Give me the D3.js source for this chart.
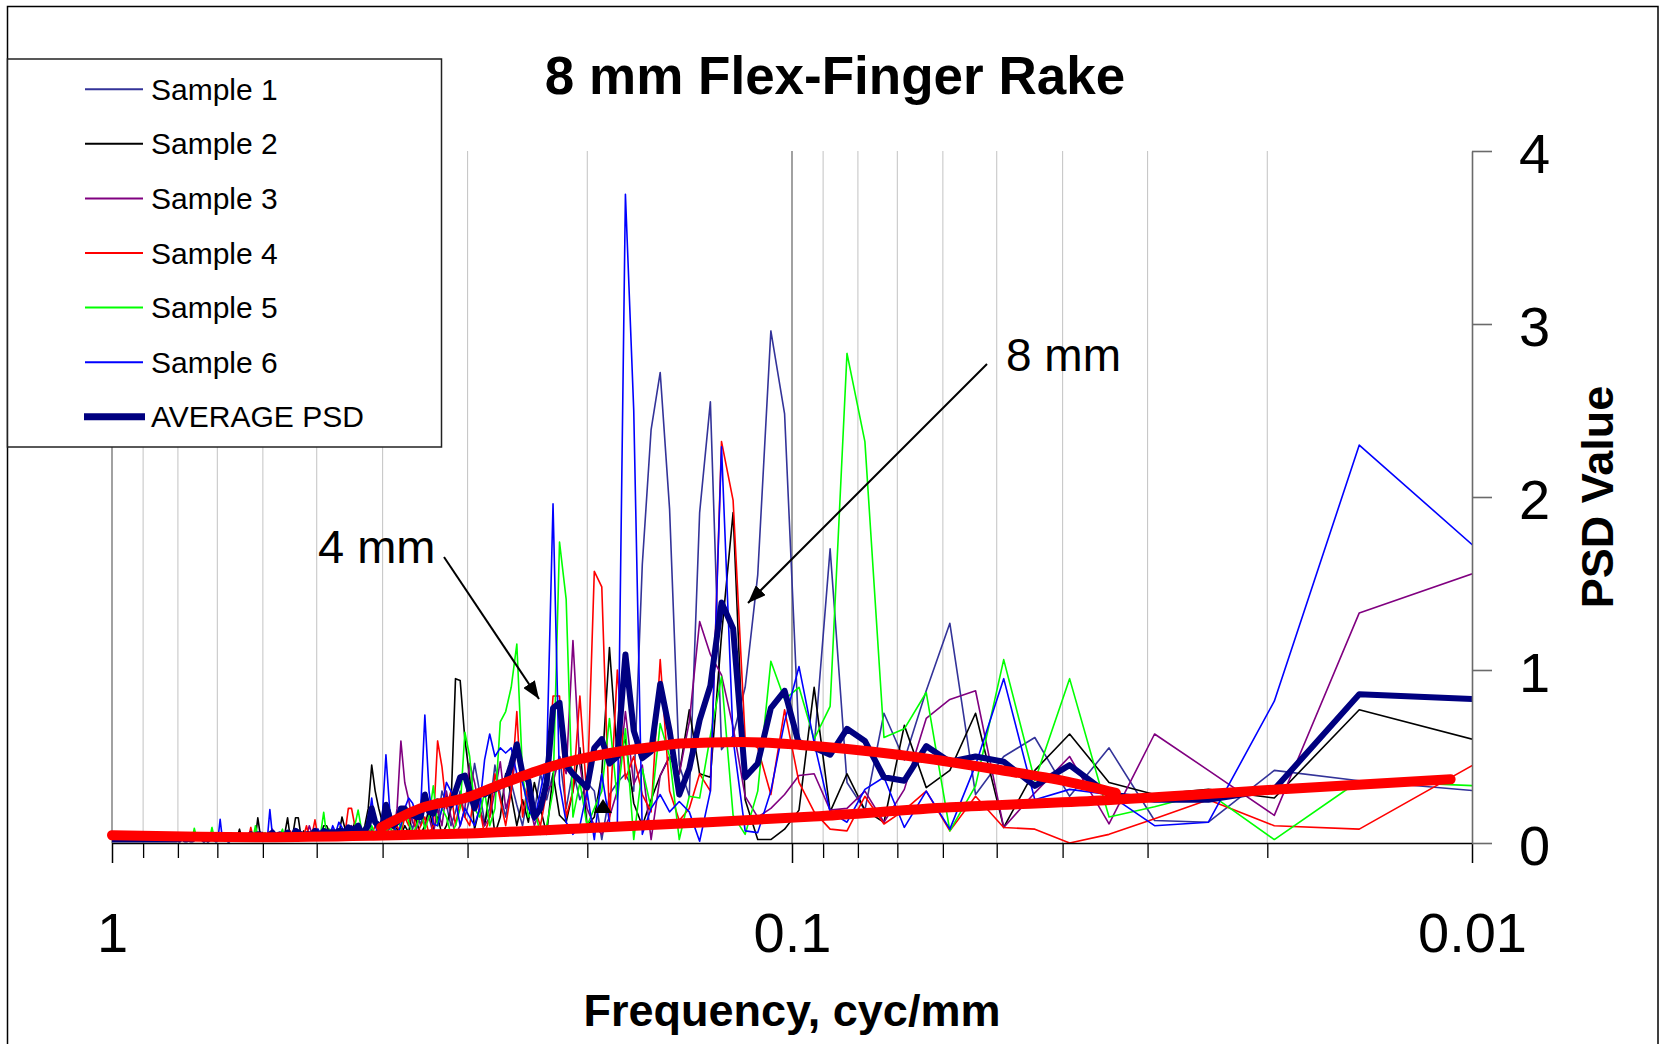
<!DOCTYPE html>
<html><head><meta charset="utf-8">
<script src="https://cdn.jsdelivr.net/npm/d3@7"></script>
<style>
html,body{margin:0;padding:0;background:#fff;}
svg{display:block;font-family:"Liberation Sans",Arial,sans-serif;}
</style></head><body>
<svg id="chart" width="1660" height="1044"></svg>
<script>
// ---------------- DATA ----------------
const chartTitle = "8 mm Flex-Finger Rake";
const xTitle = "Frequency, cyc/mm";
const yTitle = "PSD Value";
const xTickValues = [1, 0.1, 0.01];
const xTickLabels = ["1", "0.1", "0.01"];
const yTickValues = [0, 1, 2, 3, 4];
const yTickLabels = ["0", "1", "2", "3", "4"];
const recordLength = 204.8;            // mm (frequency grid = harmonic / record length)
const harmonics = d3.range(2, 206);    // harmonic numbers shown (2 .. 205)
const seriesNames = ["Sample 1","Sample 2","Sample 3","Sample 4","Sample 5","Sample 6","AVERAGE PSD"];
const seriesColors = ["#333399","#000000","#800080","#FF0000","#00FF00","#0000FF","#000080"];

const sample1 = [0.30,0.36,0.42,0.12,0.13,0.55,0.27,0.61,0.50,0.28,
 1.27,0.88,0.48,0.75,0.19,0.35,1.70,0.55,0.60,2.48,
 2.96,1.55,0.90,0.62,0.54,2.55,1.91,0.27,0.45,1.93,
 2.72,2.39,1.61,0.30,0.40,0.35,0.28,0.02,0.30,0.35,
 0.25,0.42,0.20,0.50,0.40,0.25,0.40,0.18,0.30,0.10,
 0.22,0.35,0.15,0.28,0.45,0.20,0.12,0.30,0.46,0.25,
 0.15,0.30,0.18,0.10,0.22,0.30,0.12,0.20,0.15,0.25,
 0.10,0.18,0.08,0.15,0.20,0.10,0.05,0.12,0.08,0.15,
 0.06,0.10,0.04,0.08,0.05,
 .06,.04,.08,.05,.03,.06,.09,.04,.05,.07,
 .03,.05,.08,.04,.06,.03,.05,.07,.04,.03,
 .05,.04,.06,.03,.05,.04,.02,.05,.03,.04,
 .06,.03,.04,.02,.05,.03,.04,.06,.03,.02,
 .04,.03,.05,.02,.03,.04,.02,.03,.05,.02,
 .03,.02,.04,.03,.02,.03,.04,.02,.03,.02,
 .03,.02,.02,.04,.02,.03,.02,.02,.03,.02,
 .02,.03,.02,.02,.03,.02,.02,.03,.02,.02,
 .02,.02,.03,.02,.02,.02,.03,.02,.02,.02,
 .02,.03,.02,.02,.02,.02,.03,.02,.02,.02,
 .02,.02,.02,.03,.02,.02,.02,.02,.03,.02,
 .02,.02,.02,.02,.03,.02,.02,.02,.02];

const sample2 = [0.59,0.77,0.26,0.31,0.28,0.35,0.63,0.42,0.09,0.75,
 0.42,0.32,0.68,0.12,0.19,0.40,0.18,0.90,0.19,0.08,
 0.02,0.02,0.25,1.91,1.20,0.38,0.40,0.77,0.40,0.50,
 0.39,0.25,0.10,0.23,0.60,0.50,1.13,0.40,0.15,0.10,
 0.55,0.30,0.12,0.16,0.40,0.05,0.20,0.35,0.12,0.25,
 0.10,0.28,0.40,0.15,0.05,0.30,0.10,0.20,0.08,0.38,
 0.60,0.94,0.95,0.20,0.10,0.05,0.15,0.08,0.20,0.10,
 0.05,0.12,0.20,0.06,0.10,0.04,0.08,0.15,0.10,0.05,
 0.12,0.20,0.30,0.45,0.20,
 .10,.05,.08,.12,.06,.04,.08,.15,.05,.07,
 .04,.06,.10,.10,.05,.08,.04,.06,.03,.05,
 .07,.04,.146,.146,.05,.03,.146,.06,.03,.05,
 .04,.06,.03,.05,.04,.02,.06,.05,.146,.03,
 .03,.05,.02,.04,.03,.03,.08,.03,.02,.04,
 .02,.03,.04,.02,.03,.02,.04,.02,.03,.02,
 .03,.02,.03,.02,.02,.04,.02,.03,.02,.02,
 .03,.02,.02,.03,.02,.05,.02,.02,.03,.02,
 .02,.03,.02,.02,.03,.02,.02,.03,.02,.02,
 .03,.02,.02,.02,.03,.02,.02,.02,.03,.02,
 .02,.02,.03,.02,.02,.02,.03,.02,.02,.02,
 .03,.02,.02,.02,.02,.03,.02,.02,.02];

const sample3 = [1.57,1.33,0.16,0.42,0.63,0.11,0.50,0.29,0.09,0.88,
 0.83,0.72,0.31,0.12,0.30,0.20,0.19,0.40,0.39,0.28,
 0.20,0.15,0.27,0.67,0.97,1.09,1.28,0.70,0.40,0.50,
 0.39,0.02,0.45,0.34,0.76,0.30,0.15,0.05,0.10,0.20,
 0.45,1.17,0.40,0.50,0.35,0.30,0.20,0.10,0.25,0.35,
 0.56,0.30,0.20,0.47,0.30,0.15,0.10,0.20,0.35,0.46,
 0.20,0.10,0.05,0.15,0.30,0.10,0.20,0.05,0.15,0.10,
 0.20,0.08,0.12,0.25,0.35,0.59,0.20,0.05,0.10,0.04,
 0.08,0.12,0.05,0.03,0.06,
 .05,.08,.04,.06,.10,.05,.03,.07,.04,.06,
 .08,.04,.05,.03,.06,.04,.07,.05,.10,.04,
 .03,.05,.04,.06,.03,.04,.05,.03,.04,.06,
 .03,.04,.08,.03,.05,.02,.04,.03,.05,.02,
 .03,.04,.02,.03,.05,.02,.03,.02,.04,.02,
 .03,.02,.03,.04,.02,.02,.03,.02,.02,.03,
 .02,.03,.02,.02,.03,.02,.02,.03,.02,.02,
 .02,.02,.03,.02,.02,.02,.03,.02,.02,.02,
 .03,.02,.02,.02,.02,.03,.02,.02,.02,.02,
 .02,.02,.03,.02,.02,.02,.02,.02,.03,.02,
 .02,.02,.02,.02,.03,.02,.02,.02,.02,.02,
 .02,.03,.02,.02,.02,.02,.02,.03,.02];

const sample4 = [0.47,0.08,0.10,0.25,0.14,0.05,0.00,0.08,0.09,0.27,
 0.07,0.30,0.19,0.11,0.27,0.07,0.08,0.18,0.35,0.77,
 0.28,0.55,0.60,1.98,2.32,0.30,0.40,0.20,0.13,0.30,
 1.06,0.18,0.28,0.50,0.37,1.00,0.13,1.48,1.57,0.25,
 0.85,0.30,0.15,0.85,0.85,0.30,0.10,0.20,0.35,0.15,
 0.76,0.30,0.10,0.25,0.40,0.15,0.05,0.20,0.30,0.10,
 0.15,0.25,0.10,0.30,0.20,0.44,0.59,0.10,0.05,0.15,
 0.10,0.05,0.20,0.10,0.15,0.05,0.10,0.08,0.12,0.05,
 0.10,0.06,0.10,0.05,0.08,
 .06,.04,.08,.10,.20,.20,.06,.04,.07,.05,
 .03,.06,.04,.08,.05,.04,.134,.05,.03,.10,
 .04,.06,.03,.05,.04,.07,.03,.04,.05,.03,
 .04,.03,.06,.02,.04,.03,.05,.03,.02,.04,
 .03,.09,.03,.02,.04,.03,.02,.03,.04,.02,
 .03,.02,.03,.02,.04,.02,.03,.02,.02,.03,
 .02,.03,.02,.02,.03,.02,.04,.02,.02,.03,
 .02,.02,.03,.02,.02,.02,.03,.02,.02,.03,
 .02,.02,.02,.03,.02,.02,.02,.02,.03,.02,
 .02,.03,.02,.02,.02,.03,.02,.02,.02,.02,
 .03,.02,.02,.02,.02,.02,.03,.02,.02,.02,
 .02,.02,.03,.02,.02,.02,.03,.02,.02];

const sample5 = [0.33,0.36,0.02,0.29,0.21,0.15,0.95,0.36,1.06,0.33,
 0.07,0.87,0.66,0.61,2.32,2.83,0.79,0.60,0.90,0.83,
 1.05,0.30,0.05,0.16,0.96,0.62,0.26,0.27,0.02,0.50,
 0.69,0.20,0.43,0.02,0.66,0.25,0.72,0.30,0.20,0.10,
 0.35,0.15,1.41,1.74,0.30,0.10,0.05,0.20,0.15,0.40,
 1.15,0.90,0.76,0.70,0.20,0.10,0.30,0.15,0.20,0.50,
 0.64,0.20,0.10,0.05,0.15,0.20,0.10,0.33,0.15,0.08,
 0.20,0.10,0.05,0.12,0.20,0.08,0.15,0.05,0.10,0.06,
 0.04,0.08,0.05,0.10,0.04,
 .05,.08,.19,.10,.05,.04,.07,.03,.06,.04,
 .05,.08,.04,.177,.06,.03,.05,.07,.04,.06,
 .03,.05,.04,.06,.03,.05,.04,.03,.08,.04,
 .03,.05,.02,.04,.03,.06,.03,.02,.04,.10,
 .03,.04,.02,.05,.03,.02,.04,.03,.02,.04,
 .03,.02,.04,.02,.03,.05,.02,.03,.04,.09,
 .03,.02,.04,.02,.03,.02,.03,.04,.085,.03,
 .02,.03,.02,.02,.03,.02,.02,.03,.02,.02,
 .03,.02,.02,.02,.03,.02,.02,.02,.02,.03,
 .02,.02,.03,.02,.02,.02,.02,.03,.02,.02,
 .02,.03,.02,.02,.02,.02,.02,.02,.03,.02,
 .02,.02,.02,.03,.02,.02,.02,.02,.02];

const sample6 = [1.69,2.30,0.82,0.12,0.10,0.28,0.31,0.25,0.95,0.45,
 0.08,0.30,0.09,0.38,0.31,0.12,0.18,0.58,1.02,0.70,
 0.30,0.06,0.07,0.60,2.29,0.30,0.01,0.18,0.24,0.18,
 0.28,0.20,0.05,2.50,3.75,0.10,0.12,0.40,0.02,0.30,
 0.10,0.05,0.12,0.34,1.96,0.48,0.30,0.13,0.20,0.35,
 0.40,0.55,0.52,0.55,0.50,0.63,0.48,0.20,0.10,0.15,
 0.20,0.10,0.25,0.30,0.35,0.20,0.10,0.11,0.30,0.74,
 0.20,0.15,0.23,0.26,0.20,0.10,0.05,0.10,0.20,0.51,
 0.15,0.05,0.10,0.26,0.10,
 .08,.05,.10,.06,.04,.07,.05,.09,.12,.06,
 .10,.04,.06,.03,.05,.08,.04,.06,.03,.05,
 .04,.06,.03,.05,.04,.03,.06,.04,.03,.05,
 .03,.04,.05,.193,.03,.05,.02,.04,.03,.02,
 .04,.03,.02,.04,.03,.02,.03,.04,.02,.03,
 .02,.03,.04,.02,.03,.137,.03,.02,.03,.02,
 .03,.02,.02,.03,.02,.03,.02,.02,.03,.02,
 .02,.03,.02,.02,.02,.03,.02,.02,.02,.03,
 .02,.02,.03,.02,.02,.02,.02,.03,.02,.02,
 .02,.02,.02,.03,.02,.02,.02,.02,.02,.03,
 .02,.02,.02,.02,.03,.02,.02,.02,.02,.02,
 .03,.02,.02,.02,.02,.02,.03,.02,.02];

const averagePsd = [0.83,0.86,0.31,0.25,0.25,0.28,0.45,0.33,0.47,0.50,
 0.47,0.56,0.36,0.38,0.59,0.66,0.51,0.55,0.57,0.88,
 0.78,0.46,0.38,1.24,1.39,0.91,0.71,0.43,0.28,0.65,
 0.92,0.53,0.49,0.65,1.09,0.50,0.46,0.60,0.55,0.32,
 0.36,0.40,0.45,0.81,0.78,0.35,0.20,0.15,0.36,0.40,
 0.57,0.45,0.35,0.33,0.31,0.30,0.28,0.30,0.20,0.30,
 0.39,0.38,0.30,0.22,0.25,0.22,0.24,0.17,0.18,0.28,
 0.15,0.15,0.16,0.16,0.20,0.20,0.12,0.10,0.15,0.22,
 0.10,0.10,0.12,0.20,0.10,
 .07,.06,.10,.08,.08,.09,.06,.07,.07,.06,
 .06,.06,.06,.07,.05,.05,.07,.05,.05,.05,
 .04,.05,.06,.07,.04,.04,.06,.04,.04,.05,
 .04,.04,.06,.05,.04,.04,.04,.05,.05,.04,
 .03,.05,.03,.03,.04,.03,.04,.03,.03,.03,
 .03,.02,.04,.03,.03,.04,.03,.02,.03,.04,
 .03,.02,.03,.02,.03,.03,.03,.03,.03,.02,
 .02,.03,.02,.02,.03,.03,.02,.03,.02,.02,
 .02,.02,.02,.02,.02,.02,.02,.02,.02,.02,
 .02,.02,.02,.02,.02,.02,.02,.02,.02,.02,
 .02,.02,.02,.02,.02,.02,.02,.02,.02,.02,
 .02,.02,.02,.02,.02,.02,.02,.02,.02];

// red smooth envelope curves (frequency, PSD)
const humpFreq = [0.402,0.352,0.300,0.266,0.227,0.185,0.160,0.146,0.1187,0.0972,0.0693,0.0494,0.0394,0.0334];
const humpPsd  = [0.09, 0.20, 0.265,0.345,0.44, 0.52, 0.555,0.575,0.584, 0.567, 0.509, 0.422, 0.355, 0.29];
const baseFreq = [1.0, 0.742,0.593,0.399,0.300,0.205,0.136,0.093,0.0585,0.0352,0.0185,0.01075];
const basePsd  = [0.045,0.036,0.033,0.043,0.055,0.084,0.118,0.153,0.206,0.245,0.314,0.368];

// ---------------- DRAW ----------------
const svg = d3.select("#chart");
const W = 1660, H = 1044;
const x = d3.scaleLog().domain([1, 0.01]).range([112, 1472]);
const y = d3.scaleLinear().domain([0, 4]).range([843, 151]);

svg.append("rect").attr("width", W).attr("height", H).attr("fill", "#fff");
// outer chart border
svg.append("rect").attr("x", 7.5).attr("y", 6.5).attr("width", 1650.5).attr("height", 1100)
  .attr("fill", "none").attr("stroke", "#000").attr("stroke-width", 1.5);

// vertical gridlines
const gridTicks = x.ticks();
const isMajor = v => Math.abs(Math.log10(v) - Math.round(Math.log10(v))) < 1e-9;
svg.append("g").selectAll("line").data(gridTicks.filter(v => v > 0.0100001)).join("line")
  .attr("x1", d => x(d)).attr("x2", d => x(d))
  .attr("y1", y(4)).attr("y2", y(0))
  .attr("stroke", d => isMajor(d) ? "#7a7a7a" : "#c8c8c8")
  .attr("stroke-width", d => isMajor(d) ? 1.4 : 1.1);

// plot clip
svg.append("defs").append("clipPath").attr("id", "plotClip")
  .append("rect").attr("x", 112).attr("y", 100).attr("width", 1360).attr("height", 743);

const freq = harmonics.map(k => k / recordLength);
const allSeries = [sample1, sample2, sample3, sample4, sample5, sample6, averagePsd];
const line = d3.line().x(d => x(d[0])).y(d => y(d[1]));
const gLines = svg.append("g").attr("clip-path", "url(#plotClip)");
allSeries.forEach((vals, i) => {
  const n = Math.min(vals.length, freq.length);
  const pts = d3.range(n).map(j => [freq[j], vals[j]]);
  gLines.append("path").datum(pts)
    .attr("d", line)
    .attr("fill", "none")
    .attr("stroke", seriesColors[i])
    .attr("stroke-width", i === 6 ? 6 : 1.6)
    .attr("stroke-linejoin", "round")
    .attr("stroke-linecap", "round");
});

// red envelope curves
const smooth = d3.line().x(d => x(d[0])).y(d => y(d[1])).curve(d3.curveMonotoneX);
[[baseFreq, basePsd], [humpFreq, humpPsd]].forEach(([fs, ps]) => {
  svg.append("path").datum(fs.map((f, j) => [f, ps[j]]))
    .attr("d", smooth).attr("fill", "none")
    .attr("stroke", "#FF0000").attr("stroke-width", 10)
    .attr("stroke-linecap", "round").attr("stroke-linejoin", "round");
});

// x axis
const minorTicks = gridTicks.filter(v => !isMajor(v));
const xMinor = d3.axisBottom(x).tickValues(minorTicks).tickSize(15).tickFormat("").tickSizeOuter(0);
const gxMinor = svg.append("g").attr("transform", `translate(0,${y(0)})`).call(xMinor);
gxMinor.select(".domain").remove();
gxMinor.selectAll(".tick line").attr("stroke", "#000").attr("stroke-width", 1.3);
const xMajor = d3.axisBottom(x).tickValues(xTickValues).tickSize(20).tickPadding(49)
  .tickFormat((d, i) => xTickLabels[i]).tickSizeOuter(0);
const gx = svg.append("g").attr("transform", `translate(0,${y(0)})`).call(xMajor);
gx.select(".domain").attr("stroke", "#000").attr("stroke-width", 1.5);
gx.selectAll(".tick line").attr("stroke", "#000").attr("stroke-width", 1.5);
gx.selectAll(".tick text").attr("font-size", 56).attr("fill", "#000")
  .attr("font-family", '"Liberation Sans", Arial, sans-serif');

// y axis (right)
const yAxis = d3.axisRight(y).tickValues(yTickValues).tickSize(20).tickPadding(27).tickSizeOuter(0)
  .tickFormat((d, i) => yTickLabels[i]);
const gy = svg.append("g").attr("transform", `translate(${x(0.01)},0)`).call(yAxis);
gy.select(".domain").attr("stroke", "#6a6a6a").attr("stroke-width", 1.6);
gy.selectAll(".tick line").attr("stroke", "#6a6a6a").attr("stroke-width", 1.6);
gy.selectAll(".tick text").attr("font-size", 56).attr("fill", "#000").attr("dy", "0.38em")
  .attr("font-family", '"Liberation Sans", Arial, sans-serif');

// titles
svg.append("text").attr("x", 835).attr("y", 94).attr("text-anchor", "middle")
  .attr("font-size", 53).attr("font-weight", "bold").text(chartTitle);
svg.append("text").attr("x", 792).attr("y", 1026).attr("text-anchor", "middle")
  .attr("font-size", 45).attr("font-weight", "bold").text(xTitle);
svg.append("text").attr("transform", "translate(1613,497) rotate(-90)").attr("text-anchor", "middle")
  .attr("font-size", 45).attr("font-weight", "bold").text(yTitle);

// annotations
svg.append("defs").append("marker").attr("id", "arrowHead")
  .attr("viewBox", "0 0 18 14").attr("refX", 18).attr("refY", 7)
  .attr("markerWidth", 18).attr("markerHeight", 14).attr("markerUnits", "userSpaceOnUse")
  .attr("orient", "auto")
  .append("path").attr("d", "M0,0 L18,7 L0,14 Z").attr("fill", "#000");
svg.append("line").attr("x1", 444).attr("y1", 557).attr("x2", 539).attr("y2", 699)
  .attr("stroke", "#000").attr("stroke-width", 2).attr("marker-end", "url(#arrowHead)");
svg.append("line").attr("x1", 987).attr("y1", 364).attr("x2", 748).attr("y2", 603)
  .attr("stroke", "#000").attr("stroke-width", 2).attr("marker-end", "url(#arrowHead)");
svg.append("path").attr("d", "M603,799 L612,813 L594,813 Z").attr("fill", "#000");
svg.append("text").attr("x", 318).attr("y", 563).attr("font-size", 47).text("4 mm");
svg.append("text").attr("x", 1006).attr("y", 371).attr("font-size", 46).text("8 mm");

// legend
const lg = svg.append("g");
lg.append("rect").attr("x", 7.5).attr("y", 59).attr("width", 434).attr("height", 388)
  .attr("fill", "#fff").attr("stroke", "#222").attr("stroke-width", 1.5);
const rowY = d3.range(seriesNames.length).map(i => 89.3 + i * 54.57);
seriesNames.forEach((name, i) => {
  lg.append("line").attr("x1", i === 6 ? 84 : 85).attr("x2", i === 6 ? 145 : 143)
    .attr("y1", rowY[i]).attr("y2", rowY[i])
    .attr("stroke", seriesColors[i]).attr("stroke-width", i === 6 ? 7 : 2);
  lg.append("text").attr("x", 151).attr("y", rowY[i] + 10.5)
    .attr("font-size", 30).attr("fill", "#000").text(name);
});
</script>
</body></html>
